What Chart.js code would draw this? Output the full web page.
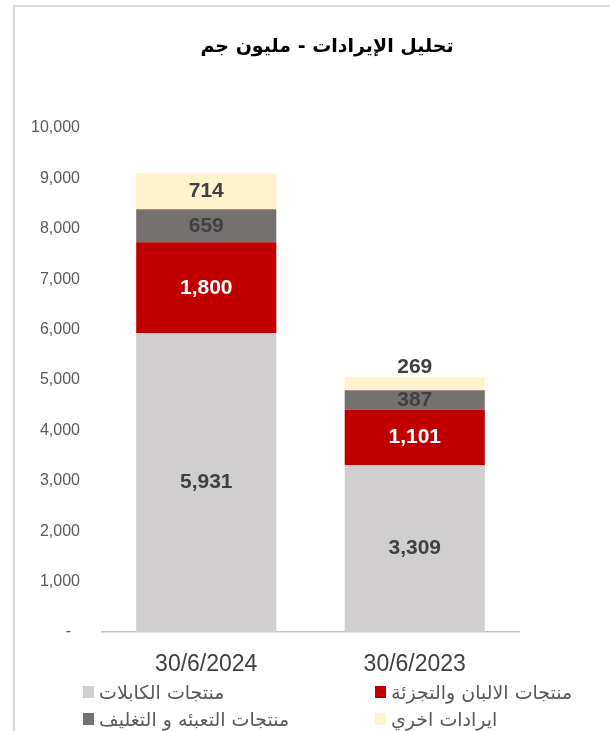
<!DOCTYPE html>
<html lang="ar">
<head>
<meta charset="utf-8">
<title>تحليل الإيرادات - مليون جم</title>
<script src="https://cdn.jsdelivr.net/npm/chart.js@4.4.1/dist/chart.umd.min.js"></script>
<style>
    html, body {
        margin: 0;
        padding: 0;
        background: #ffffff;
    }
    #wrap {
        position: relative;
        width: 610px;
        height: 731px;
        overflow: hidden;
    }
    #frame {
        position: absolute;
        left: 13px;
        top: 5px;
        right: -10px;
        bottom: -10px;
        border-top: 2px solid #d9d9d9;
        border-left: 2px solid #d9d9d9;
        pointer-events: none;
    }
    #revenueChart {
        position: absolute;
        left: 0;
        top: 0;
    }
    .legend-item {
        position: absolute;
        display: flex;
        align-items: center;
        height: 22px;
        line-height: 22px;
        font-family: "DejaVu Sans", sans-serif;
        font-size: 19px;
        color: #595959;
        white-space: nowrap;
    }
    .legend-box {
        width: 11px;
        height: 12px;
        margin-right: 5px;
    }
</style>
</head>
<body>
<div id="wrap">
    <canvas id="revenueChart" width="610" height="731"></canvas>
    <div id="legend"></div>
    <div id="frame"></div>
</div>
<script>
    // Categories and series (million EGP).
    var chartTitle = 'تحليل الإيرادات - مليون جم';
    var categories = ['30/6/2024', '30/6/2023'];
    var seriesNames = ['منتجات الكابلات', 'منتجات الالبان والتجزئة', 'منتجات التعبئه و التغليف', 'ايرادات اخري'];
    var cables = [5931, 3309];
    var dairy = [1800, 1101];
    var packaging = [659, 387];
    var otherRevenue = [714, 269];
    var yTicks = [0, 1000, 2000, 3000, 4000, 5000, 6000, 7000, 8000, 9000, 10000];

    var fillColors = ['#d0cece', '#c00000', '#767171', '#fff2cc'];
    var labelColors = ['#404040', '#ffffff', '#404040', '#404040'];

    // Title is centred on the whole sheet, not on the plot box, so draw it here.
    var sheetTitle = {
        id: 'sheetTitle',
        afterDraw: function(chart) {
            var ctx = chart.ctx;
            ctx.save();
            ctx.font = 'bold 19px "DejaVu Sans", sans-serif';
            ctx.fillStyle = '#000000';
            ctx.textAlign = 'center';
            ctx.textBaseline = 'middle';
            ctx.fillText(chartTitle, 327, 47);
            ctx.restore();
        }
    };

    // Draws the value of each segment inside it (or just above it when too thin).
    var valueLabels = {
        id: 'valueLabels',
        afterDatasetsDraw: function(chart) {
            var ctx = chart.ctx;
            ctx.save();
            ctx.font = 'bold 21px "Liberation Sans", Arial, sans-serif';
            ctx.textAlign = 'center';
            ctx.textBaseline = 'middle';
            chart.data.datasets.forEach(function(ds, i) {
                chart.getDatasetMeta(i).data.forEach(function(bar, j) {
                    var h = Math.abs(bar.base - bar.y);
                    var y = (bar.y + bar.base) / 2;
                    if (h < 16) {
                        y = bar.y - 9;
                    }
                    ctx.fillStyle = labelColors[i];
                    ctx.fillText(ds.data[j].toLocaleString('en-US'), bar.x, y);
                });
            });
            ctx.restore();
        }
    };

    var chart = new Chart(document.getElementById('revenueChart').getContext('2d'), {
        type: 'bar',
        data: {
            labels: categories,
            datasets: [cables, dairy, packaging, otherRevenue].map(function(values, i) {
                return {
                    label: seriesNames[i],
                    data: values,
                    backgroundColor: fillColors[i],
                    categoryPercentage: 1,
                    barPercentage: 0.672
                };
            })
        },
        options: {
            responsive: false,
            animation: false,
            layout: {
                padding: {left: 0, right: 91, top: 128, bottom: 55}
            },
            scales: {
                x: {
                    stacked: true,
                    grid: {display: false},
                    border: {display: true, color: '#bfbfbf', width: 1.5},
                    ticks: {
                        color: '#404040',
                        padding: 11,
                        font: {family: '"Liberation Sans", Arial, sans-serif', size: 23}
                    },
                    afterFit: function(scale) {
                        scale.height = 44;
                    }
                },
                y: {
                    stacked: true,
                    min: 0,
                    max: 10000,
                    grid: {display: false, drawTicks: false},
                    border: {display: false},
                    afterBuildTicks: function(scale) {
                        scale.ticks = yTicks.map(function(v) { return {value: v}; });
                    },
                    ticks: {
                        color: '#595959',
                        padding: 22,
                        font: {family: '"Liberation Sans", Arial, sans-serif', size: 16},
                        callback: function(value) {
                            return value === 0 ? '-  ' : value.toLocaleString('en-US');
                        }
                    },
                    afterFit: function(scale) {
                        scale.width = 102;
                    }
                }
            },
            plugins: {
                legend: {display: false},
                tooltip: {enabled: false},
                title: {display: false}
            }
        },
        plugins: [valueLabels, sheetTitle]
    });

    // Two-column legend under the axis, as in the original sheet.
    var legendSpots = [[83, 681], [375, 681], [83, 708], [375, 708]];
    var legendEl = document.getElementById('legend');
    chart.data.datasets.forEach(function(ds, i) {
        var item = document.createElement('div');
        item.className = 'legend-item';
        item.style.left = legendSpots[i][0] + 'px';
        item.style.top = legendSpots[i][1] + 'px';
        var box = document.createElement('span');
        box.className = 'legend-box';
        box.style.background = ds.backgroundColor;
        var text = document.createElement('span');
        text.dir = 'rtl';
        text.textContent = ds.label;
        item.appendChild(box);
        item.appendChild(text);
        legendEl.appendChild(item);
    });
</script>
</body>
</html>
